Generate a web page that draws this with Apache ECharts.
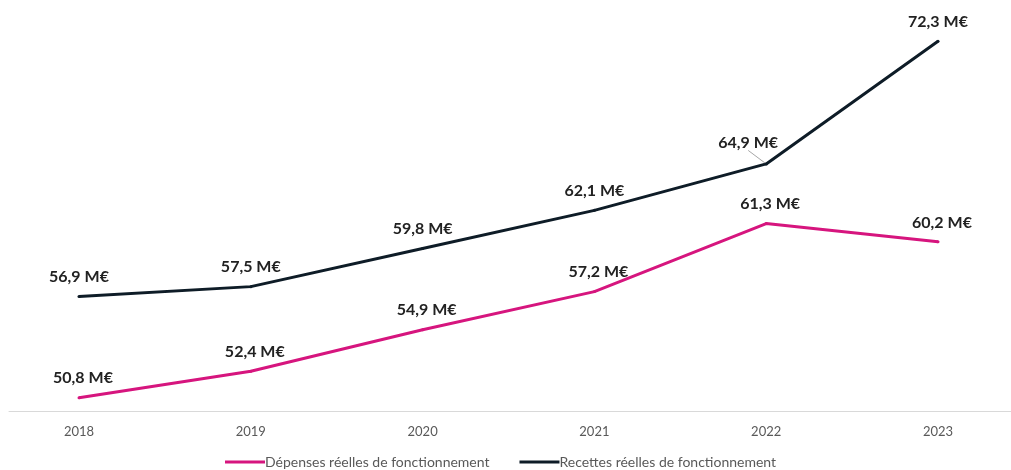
<!DOCTYPE html>
<html>
<head>
<meta charset="utf-8">
<script src="https://cdn.jsdelivr.net/npm/echarts@6/dist/echarts.min.js"></script>
<style>
  html, body { margin: 0; padding: 0; background: #fff; }
  #main { width: 1011px; height: 470px; }
</style>
</head>
<body>
<div id="main"></div>
<script>
var annees = ['2018', '2019', '2020', '2021', '2022', '2023'];
var depenses = [50.8, 52.4, 54.9, 57.2, 61.3, 60.2];
var recettes = [56.9, 57.5, 59.8, 62.1, 64.9, 72.3];

var myChart = echarts.init(document.getElementById('main'));

function fmt(p) {
    return Number(p.value).toFixed(1).replace('.', ',') + ' M€';
}

var labelStyle = {
    show: true,
    position: 'top',
    distance: 10,
    offset: [4, 0],
    formatter: fmt,
    color: '#222222',
    fontFamily: 'Lato',
    fontWeight: 'bold',
    fontSize: 16
};

// point 2022 des recettes : étiquette décalée avec trait de rappel
var recettesData = recettes.map(function (v, i) {
    if (i === 4) {
        return { value: v, labelLine: { show: true, lineStyle: { color: '#a6a6a6', width: 1 } } };
    }
    return v;
});

option = {
    animation: false,
    textStyle: { fontFamily: 'Lato' },
    grid: [
        { left: 79, right: 73, top: 13, bottom: 59 },
        { left: 9, right: 0, top: 13, bottom: 59 }
    ],
    legend: {
        bottom: -4,
        left: 220,
        itemWidth: 40,
        itemHeight: 3,
        itemGap: 30,
        icon: 'rect',
        textStyle: { color: '#595959', fontSize: 14, fontFamily: 'Lato', padding: [0, 0, 0, -5] },
        data: ['Dépenses réelles de fonctionnement', 'Recettes réelles de fonctionnement']
    },
    xAxis: [
        {
            type: 'category',
            gridIndex: 0,
            data: annees,
            boundaryGap: false,
            axisLine: { show: false },
            axisTick: { show: false },
            axisLabel: { color: '#595959', fontSize: 13, margin: 14 }
        },
        {
            type: 'category',
            gridIndex: 1,
            data: [''],
            axisLine: { show: true, lineStyle: { color: '#d9d9d9', width: 1 } },
            axisTick: { show: false },
            axisLabel: { show: false }
        }
    ],
    yAxis: [
        {
            type: 'value',
            gridIndex: 0,
            min: 50,
            max: 74,
            show: false,
            splitLine: { show: false }
        },
        {
            type: 'value',
            gridIndex: 1,
            show: false,
            splitLine: { show: false }
        }
    ],
    series: [
        {
            name: 'Dépenses réelles de fonctionnement',
            type: 'line',
            data: depenses,
            symbol: 'circle',
            symbolSize: 3,
            showSymbol: true,
            color: '#d6157e',
            itemStyle: { color: '#d6157e' },
            lineStyle: { width: 3, color: '#d6157e' },
            label: labelStyle
        },
        {
            name: 'Recettes réelles de fonctionnement',
            type: 'line',
            data: recettesData,
            symbol: 'circle',
            symbolSize: 3,
            showSymbol: true,
            color: '#0e1c27',
            itemStyle: { color: '#0e1c27' },
            lineStyle: { width: 3, color: '#0e1c27' },
            label: labelStyle,
            labelLayout: function (params) {
                if (params.dataIndex === 4) {
                    return { dx: -18, dy: -2 };
                }
            }
        }
    ]
};
myChart.setOption(option);
</script>
</body>
</html>
